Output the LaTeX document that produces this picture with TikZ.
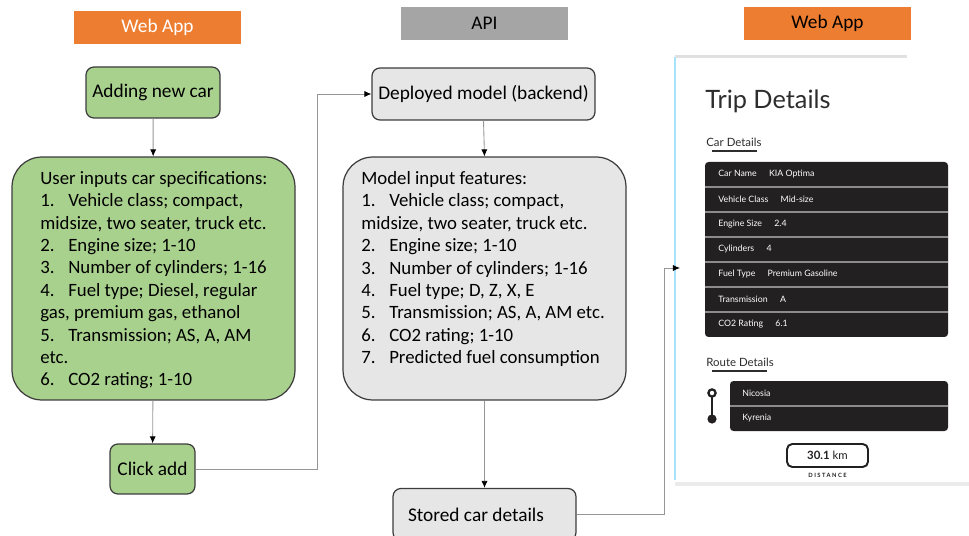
\documentclass[tikz,border=0pt]{standalone}
\usepackage{fontspec}
\setmainfont{Carlito}
\newfontfamily\appfont{Lato}
\usepackage{tikz}
\usetikzlibrary{arrows.meta, positioning, calc}
\usepackage{xcolor}
\definecolor{hdrorange}{RGB}{237,125,49}
\definecolor{hdrgray}{RGB}{165,165,165}
\definecolor{boxgreen}{RGB}{169,209,142}
\definecolor{boxgray}{RGB}{231,230,230}
\definecolor{rimgray}{RGB}{60,60,60}
\definecolor{linkgray}{RGB}{150,150,150}
\definecolor{tabledark}{RGB}{35,32,33}
\definecolor{apptext}{RGB}{45,45,45}
\newcommand{\itm}[1]{\makebox[15.9pt][l]{#1}}
\tikzset{
    header/.style={minimum width=3.34cm, minimum height=0.66cm, inner sep=0pt, font=\fontsize{11}{13}\selectfont},
    greenbox/.style={draw=rimgray, fill=boxgreen, line width=0.7pt, rounded corners=4.5pt},
    greybox/.style={draw=rimgray, fill=boxgray, line width=0.7pt, rounded corners=4.5pt},
    bigbox/.style={minimum width=5.66cm, minimum height=4.86cm, rounded corners=17pt},
    listtext/.style={align=left, inner sep=0pt, anchor=north west, font=\fontsize{10.7}{12.75}\selectfont},
    link/.style={draw=linkgray, line width=0.5pt, -{Latex[black,length=4pt,width=3.5pt]}},
    rowtext/.style={anchor=west, inner sep=0pt, text=white, font=\appfont\fontsize{5}{6}\selectfont}
}

\begin{document}
\begin{tikzpicture}[x=0.02cm, y=-0.02cm]
    \useasboundingbox (0,0) rectangle (969,536);

    % column headers
    \node[header, fill=hdrorange, text=white] (webleft) at (157.5,27.5) {Web App};
    \node[header, fill=hdrgray] (api) at (484.5,23.5) {API};
    \node[header, fill=hdrorange] (webright) at (827.5,23.5) {Web App};

    % web app column
    \node[greenbox, minimum width=2.68cm, minimum height=1.02cm, font=\fontsize{11}{13}\selectfont] (adding) at (153,92.5) {Adding new car};
    \node[greenbox, bigbox] (spec) at (153.5,278.5) {};
    \node[listtext] (spectxt) at (40,171) {User inputs car specifications:\\
        \itm{1.}Vehicle class; compact,\\
        midsize, two seater, truck etc.\\
        \itm{2.}Engine size; 1-10\\
        \itm{3.}Number of cylinders; 1-16\\
        \itm{4.}Fuel type; Diesel, regular\\
        gas, premium gas, ethanol\\
        \itm{5.}Transmission; AS, A, AM\\
        etc.\\
        \itm{6.}CO2 rating; 1-10};
    \node[greenbox, minimum width=1.7cm, minimum height=1cm, font=\fontsize{11}{13}\selectfont] (click) at (152.5,469) {Click add};

    % api column
    \node[greybox, minimum width=4.46cm, minimum height=1.04cm, font=\fontsize{11}{13}\selectfont] (deploy) at (483.5,94) {Deployed model (backend)};
    \node[greybox, bigbox] (model) at (484.5,278.5) {};
    \node[listtext] (modeltxt) at (361,171) {Model input features:\\
        \itm{1.}Vehicle class; compact,\\
        midsize, two seater, truck etc.\\
        \itm{2.}Engine size; 1-10\\
        \itm{3.}Number of cylinders; 1-16\\
        \itm{4.}Fuel type; D, Z, X, E\\
        \itm{5.}Transmission; AS, A, AM etc.\\
        \itm{6.}CO2 rating; 1-10\\
        \itm{7.}Predicted fuel consumption};
    \node[greybox, inner xsep=0.3cm, minimum height=1.04cm, font=\fontsize{11}{13}\selectfont] (stored) at (484.5,514.5) {\makebox[3.06cm][l]{Stored car details}};

    % app screenshot
    \node[fill=white, minimum width=5.88cm, minimum height=8.6cm, inner sep=0pt] (phone) at (822,270) {};
    \fill[black!12] (675,55) rectangle (907,58);
    \draw[cyan!35, line width=0.8pt] (675,57) -- (675,480);
    \fill[black!8] (675,482) rectangle (969,486);
    \coordinate (phonein) at (680,268);

    \node[anchor=west, inner sep=0pt, text=apptext, font=\appfont\fontsize{14.4}{17}\selectfont] (trip) at (705,101) {Trip Details};
    \node[anchor=west, inner sep=0pt, text=apptext, font=\appfont\fontsize{6.5}{8}\selectfont] (cardet) at (706,142) {Car Details};
    \draw[apptext, line width=0.9pt] (712,151) -- (757,151);
    \fill[tabledark, rounded corners=2pt] (705,162) rectangle (948,337);
    \foreach \y in {187,212,...,312}
        \draw[black!45, line width=0.6pt] (705,\y) -- (948,\y);
    \foreach \lab/\val [count=\i] in {Car Name/KIA Optima, Vehicle Class/Mid-size, Engine Size/2.4, Cylinders/4, Fuel Type/Premium Gasoline, Transmission/A, CO2 Rating/6.1}
        \node[rowtext] (row\i) at (718,{149.5+25*\i}) {\lab\hspace{7pt}\val};

    \node[anchor=west, inner sep=0pt, text=apptext, font=\appfont\fontsize{6.5}{8}\selectfont] (routedet) at (706,362) {Route Details};
    \draw[apptext, line width=0.9pt] (712,371) -- (767,371);
    \fill[tabledark, rounded corners=2pt] (730,381) rectangle (948,431);
    \draw[black!45, line width=0.6pt] (730,406) -- (948,406);
    \node[rowtext] (from) at (742,393.5) {Nicosia};
    \node[rowtext] (to) at (742,418.5) {Kyrenia};
    \draw[tabledark, line width=1.2pt] (712,397) -- (712,415);
    \draw[tabledark, line width=1.3pt, fill=white] (712,393) circle (3.6);
    \fill[tabledark] (712,419) circle (4.6);

    \draw[tabledark, line width=1.1pt, rounded corners=3pt] (787,444) rectangle (868,467);
    \node[inner sep=0pt, text=tabledark, font=\appfont\fontsize{6.5}{8}\selectfont] (dist) at (827.5,455.5) {\textbf{30.1} km};
    \node[inner sep=0pt, text=tabledark, font=\appfont\fontsize{3.3}{4}\selectfont\bfseries\addfontfeatures{LetterSpace=25}] (distlab) at (827.5,475) {DISTANCE};

    % connectors
    \draw[link] (adding) -- (spec);
    \draw[link] (spec) -- (click);
    \draw[link] (click.east) -- ++(122,0) |- (deploy.west);
    \draw[link] (deploy.south) -- (model.north);
    \draw[link] (model.south) -- (stored.north);
    \draw[link] (stored.east) -- ++(88,0) |- (phonein);
\end{tikzpicture}
\end{document}
